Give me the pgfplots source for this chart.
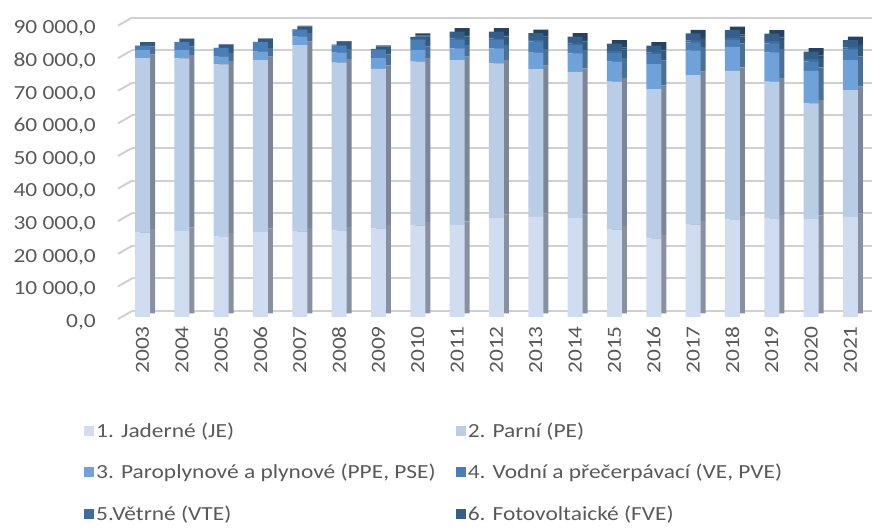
\documentclass[border=0pt]{standalone}
\usepackage{pgfplots}
\pgfplotsset{compat=1.18}
\usepackage{pgfplotstable}
\usepackage{fontspec}
\setmainfont{Carlito}[FakeStretch=1.17]
\newcommand\chartfont{\fontsize{20bp}{24bp}\selectfont}
\definecolor{txt}{HTML}{595959}
\definecolor{gridc}{HTML}{D0D0D0}
\definecolor{cJE}{HTML}{D0DCEF}
\definecolor{cPE}{HTML}{BACDE7}
\definecolor{cPPE}{HTML}{6FA2D9}
\definecolor{cVE}{HTML}{4A7EB6}
\definecolor{cVTE}{HTML}{3F6E9D}
\definecolor{cFVE}{HTML}{355F89}
\definecolor{sJE}{HTML}{8791A2}
\definecolor{sPE}{HTML}{7B8799}
\definecolor{sPPE}{HTML}{4B6F96}
\definecolor{sVE}{HTML}{34597F}
\definecolor{sVTE}{HTML}{2C4D6E}
\definecolor{sFVE}{HTML}{25425F}

\pgfplotstableread{
x JE PE PPE VE VTE FVE
0 25872 53528 2500 1323 4 0
1 26325 53035 2540 2423 10 0
2 24728 52772 2400 2657 21 0
3 26044 52756 2600 2912 49 0
4 26172 57228 2600 2071 125 2
5 26551 51449 3100 2160 245 13
6 27208 48892 3300 2473 288 89
7 27998 50302 3600 3058 336 616
8 28283 50517 3600 2646 397 2118
9 30324 47476 4600 2584 417 2173
10 30745 45255 5100 3451 481 2033
11 30325 44875 5700 2503 477 2123
12 26841 45359 6100 2751 573 2264
13 24104 45796 7700 3048 497 2131
14 28340 45860 7500 2552 591 2193
15 29921 45579 7400 2135 609 2359
16 30246 41954 9000 2767 700 2293
17 30043 35457 10000 2928 699 2297
18 30732 38868 9200 3272 600 2290
}\data

\begin{document}
\begin{tikzpicture}
\useasboundingbox (0,0) rectangle (874bp,529bp);
% back wall grid
\begin{axis}[
  at={(132bp,218bp)}, anchor=south west,
  scale only axis, width=740bp, height=293.4bp,
  xmin=0, xmax=1, ymin=0, ymax=90000,
  clip=false,
  axis line style={draw=none}, xtick=\empty,
  ytick={0,10000,...,90000}, scaled y ticks=false,
  yticklabel style={opacity=0, text opacity=0},
  tick style={draw=none},
  ymajorgrids, major grid style={draw=gridc, line width=2bp},
]
\addplot[draw=none, forget plot] coordinates {(0,0) (1,90000)};
\pgfplotsinvokeforeach{0,10000,20000,30000,40000,50000,60000,70000,80000,90000}{
  \draw[gridc, line width=2bp] (axis cs:0,#1) -- ++(-14bp,-8bp);
}
\end{axis}
% back (side/top) faces
\begin{axis}[
  at={(123bp,215.5bp)}, anchor=south west,
  scale only axis, width=740bp, height=293.4bp,
  xmin=-0.623, xmax=18.192, ymin=0, ymax=90000,
  hide axis,
  ybar stacked, bar width=15bp,
]
\addplot[fill=sJE, draw=none] table[x=x,y=JE]{\data};
\addplot[fill=sPE, draw=none] table[x=x,y=PE]{\data};
\addplot[fill=sPPE, draw=none] table[x=x,y=PPE]{\data};
\addplot[fill=sVE, draw=none] table[x=x,y=VE]{\data};
\addplot[fill=sVTE, draw=none] table[x=x,y=VTE]{\data};
\addplot[fill=sFVE, draw=none] table[x=x,y=FVE]{\data};
\end{axis}
% front faces
\begin{axis}[
  at={(118bp,212bp)}, anchor=south west,
  scale only axis, width=740bp, height=293.4bp,
  xmin=-0.623, xmax=18.192, ymin=0, ymax=90000,
  axis line style={draw=none}, major tick length=0pt,
  ybar stacked, bar width=15bp,
  xtick={0,...,18},
  xticklabels={2003,2004,2005,2006,2007,2008,2009,2010,2011,2012,2013,2014,2015,2016,2017,2018,2019,2020,2021},
  xticklabel style={rotate=90, anchor=east, inner sep=0pt, font=\chartfont, text=txt},
  xticklabel shift=9bp,
  ytick={0,10000,...,90000},
  scaled y ticks=false,
  yticklabel style={anchor=east, inner sep=0pt, xshift=-22bp, yshift=-5bp, font=\chartfont, text=txt,
    /pgf/number format/.cd, fixed, fixed zerofill, precision=1, use comma, 1000 sep={\ }, assume math mode=true},
  legend columns=2,
  legend cell align=left,
  legend style={at={(-0.0459,-0.3545)}, anchor=north west, draw=none, fill=none,
    inner sep=0pt, font=\chartfont, text=txt, row sep=21bp,
    nodes={inner sep=2bp},
    /tikz/every even column/.append style={column sep=18bp}},
  legend image code/.code={\fill[#1] (0bp,-5bp) rectangle (10bp,5bp);},
]
\addplot[fill=cJE, draw=none] table[x=x,y=JE]{\data};
\addlegendentry{1. Jaderné (JE)}
\addplot[fill=cPE, draw=none] table[x=x,y=PE]{\data};
\addlegendentry{2. Parní (PE)}
\addplot[fill=cPPE, draw=none] table[x=x,y=PPE]{\data};
\addlegendentry{3. Paroplynové a plynové (PPE, PSE)}
\addplot[fill=cVE, draw=none] table[x=x,y=VE]{\data};
\addlegendentry{4. Vodní a přečerpávací (VE, PVE)}
\addplot[fill=cVTE, draw=none] table[x=x,y=VTE]{\data};
\addlegendentry{5.Větrné (VTE)}
\addplot[fill=cFVE, draw=none] table[x=x,y=FVE]{\data};
\addlegendentry{6. Fotovoltaické (FVE)}
\end{axis}
\end{tikzpicture}
\end{document}
